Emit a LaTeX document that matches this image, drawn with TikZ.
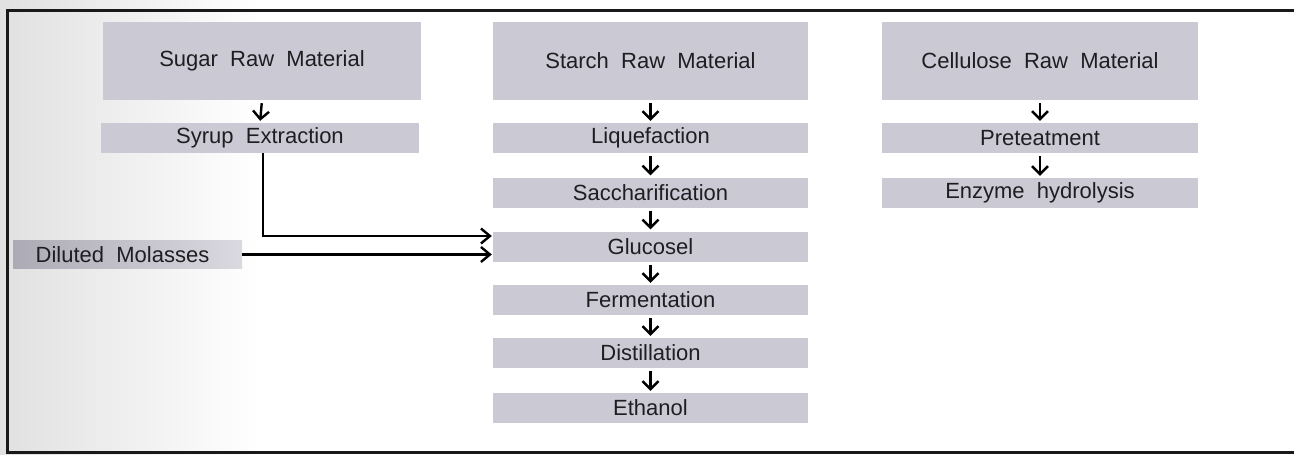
\documentclass[tikz,border=0pt]{standalone}
\usepackage{fontspec}
\setmainfont{Liberation Sans}
\usetikzlibrary{arrows.meta,calc}
\definecolor{boxgray}{RGB}{203,201,211}
\definecolor{boxdark}{RGB}{172,170,180}
\definecolor{txt}{RGB}{30,30,34}
\tikzset{
  stage/.style={fill=boxgray, draw=none, inner sep=0pt, text=txt,
    font=\fontsize{22}{24}\selectfont, anchor=center},
  bigbox/.style={stage, minimum height=78pt},
  smallbox/.style={stage, minimum height=30pt},
  varr/.style={line width=2.4pt, -{Straight Barb[length=8pt,width=16pt,line width=2.4pt]},
    shorten <=3pt, shorten >=2pt},
  harr/.style={line width=2.4pt, -{Straight Barb[length=9pt,width=15pt,line width=2.4pt]},
    shorten >=1pt},
}
\begin{document}
\begin{tikzpicture}[x=1pt,y=-1pt]
\useasboundingbox (0,0) rectangle (1294,455);
\fill[white] (0,0) rectangle (1294,455);
\shade[left color=black!12, right color=white] (0,0) rectangle (260,455);
% frame
\draw[line width=3pt, black!90] (1294,10) -- (7,10) -- (7,452) -- (1294,452);
% column 1
\node[bigbox, minimum width=318pt] (sugar) at (262,61) {Sugar\ \ Raw\ \ Material};
\node[smallbox, minimum width=318pt] (syrup) at (260,138) {Syrup\ \ Extraction};
% column 2
\node[bigbox, minimum width=315pt] (starch) at (650.5,61) {Starch\ \ Raw\ \ Material};
\node[smallbox, minimum width=315pt] (liq) at (650.5,138) {Liquefaction};
\node[smallbox, minimum width=315pt] (sacc) at (650.5,192.5) {Saccharification};
\node[smallbox, minimum width=315pt] (gluc) at (650.5,246.5) {Glucosel};
\node[smallbox, minimum width=315pt] (ferm) at (650.5,300) {Fermentation};
\node[smallbox, minimum width=315pt] (dist) at (650.5,353) {Distillation};
\node[smallbox, minimum width=315pt] (eth) at (650.5,408) {Ethanol};
% column 3
\node[bigbox, minimum width=316pt] (cell) at (1040,61) {Cellulose\ \ Raw\ \ Material};
\node[smallbox, minimum width=316pt] (pre) at (1040,138) {Preteatment};
\node[smallbox, minimum width=316pt] (enz) at (1040,193) {Enzyme\ \ hydrolysis};
% diluted molasses
\node[stage, minimum width=229pt, minimum height=28pt, left color=boxdark, right color=boxgray!70] (mol) at (127.5,254.5) {Diluted\ \ Molasses\hspace*{10pt}};
% vertical arrows
\draw[varr] (sugar.south) -- (syrup.north);
\draw[varr] (starch.south) -- (liq.north);
\draw[varr] (liq.south) -- (sacc.north);
\draw[varr] (sacc.south) -- (gluc.north);
\draw[varr] (gluc.south) -- (ferm.north);
\draw[varr] (ferm.south) -- (dist.north);
\draw[varr] (dist.south) -- (eth.north);
\draw[varr] (cell.south) -- (pre.north);
\draw[varr] (pre.south) -- (enz.north);
% horizontal arrows
\draw[harr] ([xshift=3pt]syrup.south) |- ([yshift=10.5pt]gluc.west);
\draw[harr] (mol.east) -- (mol.east -| gluc.west);
\end{tikzpicture}
\end{document}
